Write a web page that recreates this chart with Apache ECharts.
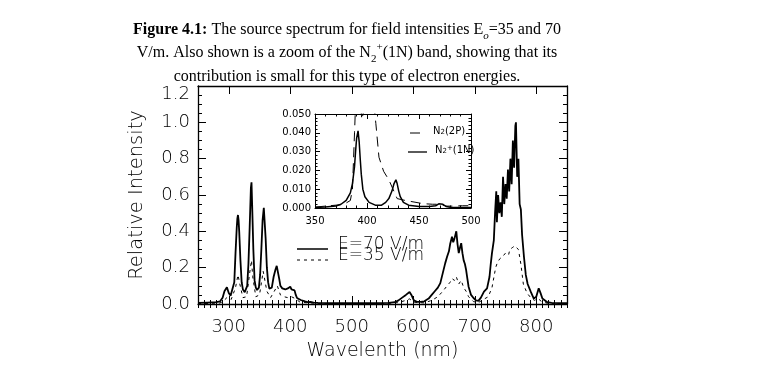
<!DOCTYPE html>
<html><head><meta charset="utf-8">
<script src="https://cdn.jsdelivr.net/npm/echarts@6/dist/echarts.min.js"></script>
<style>html,body{margin:0;padding:0;background:#fff}#c{width:762px;height:385px}</style>
</head><body><div id="c"></div>
<script>
// ---- data ----
const xTicks = [300, 400, 500, 600, 700, 800];
const yTicks = [0.0, 0.2, 0.4, 0.6, 0.8, 1.0, 1.2];
const insetXTicks = [350, 400, 450, 500];
const insetYTicks = [0.000, 0.010, 0.020, 0.030, 0.040, 0.050];
const seriesNames = ['E=70 V/m', 'E=35 V/m'];
const insetNames = ['N2(2P)', 'N2+(1N)'];

// E = 70 V/m  [wavelength nm, relative intensity]
const spec70 = [[250,0.006],[265,0.008],[280,0.010],[286,0.015],[290,0.035],[293,0.07],[297,0.092],[300,0.06],[303,0.045],[306,0.05],[309,0.12],[311,0.28],[313,0.42],[314,0.47],[315,0.49],[316,0.46],[317,0.40],[319,0.24],[321,0.12],[323,0.08],[326,0.065],[328,0.075],[330,0.10],[332,0.22],[334,0.42],[336,0.64],[337,0.67],[338,0.55],[340,0.30],[342,0.13],[344,0.09],[346,0.077],[349,0.09],[351,0.16],[353,0.30],[355,0.46],[357,0.53],[358,0.52],[360,0.36],[362,0.20],[364,0.12],[366,0.085],[368,0.077],[370,0.09],[373,0.15],[376,0.19],[378,0.21],[380,0.20],[382,0.14],[384,0.10],[387,0.086],[390,0.078],[392,0.08],[394,0.07],[396,0.086],[398,0.075],[400,0.095],[402,0.08],[404,0.085],[407,0.075],[409,0.05],[411,0.033],[414,0.025],[417,0.022],[420,0.02],[424,0.014],[428,0.01],[433,0.012],[438,0.008],[445,0.006],[460,0.005],[480,0.004],[500,0.004],[520,0.004],[540,0.005],[560,0.006],[570,0.01],[576,0.02],[582,0.035],[588,0.05],[594,0.066],[597,0.05],[601,0.02],[606,0.012],[612,0.012],[618,0.015],[625,0.03],[630,0.05],[635,0.07],[640,0.09],[644,0.115],[648,0.17],[652,0.225],[655,0.26],[658,0.29],[660,0.33],[663,0.37],[665,0.34],[667,0.36],[670,0.40],[672,0.33],[674,0.28],[676,0.31],[678,0.335],[680,0.28],[682,0.24],[684,0.22],[686,0.187],[688,0.14],[690,0.095],[694,0.05],[698,0.033],[702,0.02],[706,0.017],[710,0.035],[715,0.068],[720,0.086],[724,0.15],[726,0.22],[728,0.28],[731,0.35],[733,0.50],[735,0.62],[736,0.45],[738,0.60],[740,0.50],[742,0.56],[744,0.48],[746,0.70],[748,0.55],[750,0.66],[752,0.58],[754,0.74],[756,0.62],[758,0.80],[760,0.66],[762,0.90],[764,0.75],[766,0.98],[767,1.00],[769,0.70],[771,0.80],[773,0.55],[775,0.52],[777,0.38],[780,0.26],[783,0.16],[786,0.11],[791,0.068],[796,0.03],[800,0.04],[804,0.087],[807,0.06],[810,0.03],[818,0.01],[825,0.006],[850,0.004]];

// E = 35 V/m
const spec35 = [[250,0.002],[285,0.005],[290,0.012],[297,0.035],[304,0.025],[311,0.09],[315,0.16],[318,0.11],[323,0.035],[329,0.04],[334,0.17],[337,0.24],[339,0.15],[344,0.04],[350,0.05],[356,0.18],[358,0.19],[362,0.07],[368,0.035],[374,0.07],[379,0.10],[384,0.05],[390,0.04],[396,0.035],[402,0.04],[408,0.03],[416,0.01],[430,0.006],[450,0.003],[500,0.002],[560,0.003],[576,0.008],[588,0.02],[594,0.028],[601,0.01],[618,0.006],[630,0.02],[640,0.04],[648,0.07],[655,0.10],[660,0.12],[663,0.14],[667,0.13],[670,0.15],[674,0.11],[678,0.13],[682,0.09],[686,0.07],[690,0.04],[698,0.013],[706,0.008],[714,0.025],[722,0.04],[728,0.09],[734,0.20],[737,0.23],[741,0.25],[745,0.26],[750,0.28],[755,0.27],[757,0.30],[761,0.31],[765,0.32],[767,0.33],[771,0.30],[775,0.22],[779,0.11],[785,0.06],[791,0.035],[797,0.02],[803,0.03],[808,0.015],[818,0.004],[850,0.002]];

// inset: N2(2P) band (dashed)
const inset2P = [[350,0.0005],[360,0.001],[370,0.0015],[378,0.002],[384,0.004],[386,0.01],[388,0.04],[389,0.055],[391,0.07],[393,0.06],[395,0.047],[397,0.052],[400,0.08],[404,0.09],[406,0.07],[407.6,0.05],[408.5,0.045],[409,0.042],[411.5,0.027],[416,0.0195],[421,0.015],[429,0.005],[437,0.004],[452,0.0025],[457,0.0022],[463,0.002],[470,0.002],[476,0.001],[481,0.001],[492,0.0012],[500,0.0012]];
// inset: N2+(1N) band (solid)
const inset1N = [[350,0.0003],[360,0.0005],[370,0.001],[375,0.002],[380,0.004],[384,0.008],[386,0.013],[388,0.022],[389,0.03],[390,0.037],[391.4,0.041],[392.5,0.035],[393.5,0.026],[394.5,0.018],[396,0.01],[398,0.006],[402,0.003],[408,0.0015],[414,0.0015],[418,0.003],[421,0.005],[424,0.009],[426,0.013],[427.8,0.015],[429,0.013],[430.5,0.009],[432,0.006],[435,0.003],[440,0.0015],[450,0.0008],[460,0.0008],[466,0.0012],[469,0.0022],[470.9,0.0025],[473,0.002],[476,0.0008],[480,0.0004],[490,0.0002],[500,0.0002]];

// ---- chart ----
const AX = '#000';
const LF = {fontFamily: 'DejaVu Sans', fontWeight: 'lighter', color: '#000'};
const chart = echarts.init(document.getElementById('c'), null, {renderer: 'canvas'});
function ax(base, extra) { return Object.assign({}, base, extra); }

const mainX = {gridIndex: 0, type: 'value', min: 250, max: 850, splitLine: {show: false},
  axisLine: {show: true, onZero: false, lineStyle: {color: AX, width: 1.3}}};
const mainY = {gridIndex: 0, type: 'value', min: 0, max: 1.2, interval: 0.2, splitLine: {show: false},
  axisLine: {show: true, onZero: false, lineStyle: {color: AX, width: 1.3}}};
const insX = {gridIndex: 1, type: 'value', min: 350, max: 500, interval: 50, splitLine: {show: false},
  axisLine: {show: true, onZero: false, lineStyle: {color: AX, width: 1}}};
const insY = {gridIndex: 1, type: 'value', min: 0, max: 0.05, interval: 0.01, splitLine: {show: false},
  axisLine: {show: true, onZero: false, lineStyle: {color: AX, width: 1}}};

const option = {
  backgroundColor: '#fff',
  animation: false,
  title: {
    left: 342, top: 13, textAlign: 'center',
    text: '{b|Figure 4.1:} The source spectrum for field intensities E{sub|o}=35 and 70\nV/m. Also shown is a zoom of the N{sub2|2}{sup|+}(1N) band, showing that its\ncontribution is small for this type of electron energies.',
    textStyle: {
      fontFamily: 'Liberation Serif', fontSize: 16, fontWeight: 'normal', color: '#000', lineHeight: 23.5,
      rich: {
        b: {fontFamily: 'Liberation Serif', fontSize: 16, fontWeight: 'bold', color: '#000', lineHeight: 23.5},
        sub: {fontFamily: 'Liberation Serif', fontSize: 11, fontStyle: 'italic', color: '#000', verticalAlign: 'bottom', lineHeight: 16},
        sub2: {fontFamily: 'Liberation Serif', fontSize: 11, color: '#000', verticalAlign: 'bottom', lineHeight: 16},
        sup: {fontFamily: 'Liberation Serif', fontSize: 11, color: '#000', verticalAlign: 'top', lineHeight: 16}
      }
    }
  },
  grid: [
    {left: 198, right: 195, top: 86, bottom: 81},
    {left: 315, right: 291, top: 114, bottom: 177}
  ],
  xAxis: [
    ax(mainX, {position: 'bottom', name: 'Wavelenth (nm)', nameLocation: 'middle', nameGap: 38,
      nameTextStyle: Object.assign({fontSize: 19}, LF),
      axisTick: {show: true, inside: true, length: 8, customValues: xTicks, lineStyle: {color: AX}},
      axisLabel: Object.assign({show: true, margin: 14, fontSize: 18, customValues: xTicks}, LF)}),
    ax(mainX, {position: 'bottom', interval: 10, axisLine: {show: false},
      axisTick: {show: true, inside: true, length: 4, lineStyle: {color: AX}}, axisLabel: {show: false}}),
    ax(mainX, {position: 'top', axisTick: {show: true, inside: true, length: 8, customValues: xTicks, lineStyle: {color: AX}}, axisLabel: {show: false}}),
    ax(mainX, {position: 'top', interval: 10, axisLine: {show: false},
      axisTick: {show: true, inside: true, length: 4, lineStyle: {color: AX}}, axisLabel: {show: false}}),
    ax(insX, {position: 'bottom',
      axisTick: {show: true, inside: true, length: 5, lineStyle: {color: AX}},
      minorTick: {show: true, splitNumber: 5, length: 2.5, lineStyle: {color: AX}},
      axisLabel: {show: true, margin: 8, fontSize: 10, fontFamily: 'DejaVu Sans', color: '#000', customValues: insetXTicks}}),
    ax(insX, {position: 'top',
      axisTick: {show: true, inside: true, length: 5, lineStyle: {color: AX}},
      minorTick: {show: true, splitNumber: 5, length: 2.5, lineStyle: {color: AX}},
      axisLabel: {show: false}})
  ],
  yAxis: [
    ax(mainY, {position: 'left', name: 'Relative Intensity', nameLocation: 'middle', nameGap: 51,
      nameTextStyle: Object.assign({fontSize: 19.5}, LF),
      axisTick: {show: true, inside: true, length: 8, lineStyle: {color: AX}},
      minorTick: {show: true, splitNumber: 4, length: 4, lineStyle: {color: AX}},
      axisLabel: Object.assign({show: true, margin: 8, fontSize: 18,
        formatter: function (v) { return v >= 1.19 ? '{t|' + v.toFixed(1) + '}' : v.toFixed(1); },
        rich: {t: {fontSize: 18, fontFamily: 'DejaVu Sans', fontWeight: 'lighter', color: '#000', padding: [16, 0, 0, 0]}}}, LF)}),
    ax(mainY, {position: 'right',
      axisTick: {show: true, inside: true, length: 8, lineStyle: {color: AX}},
      minorTick: {show: true, splitNumber: 4, length: 4, lineStyle: {color: AX}},
      axisLabel: {show: false}}),
    ax(insY, {position: 'left',
      axisTick: {show: true, inside: true, length: 5, lineStyle: {color: AX}},
      minorTick: {show: true, splitNumber: 5, length: 2.5, lineStyle: {color: AX}},
      axisLabel: {show: true, margin: 4, fontSize: 10, fontFamily: 'DejaVu Sans', color: '#000',
        formatter: function (v) { return v.toFixed(3); }}}),
    ax(insY, {position: 'right',
      axisTick: {show: true, inside: true, length: 5, lineStyle: {color: AX}},
      minorTick: {show: true, splitNumber: 5, length: 2.5, lineStyle: {color: AX}},
      axisLabel: {show: false}})
  ],
  graphic: [
    // main legend
    {type: 'line', shape: {x1: 297, y1: 249, x2: 328, y2: 249}, style: {stroke: '#000', lineWidth: 1.5}},
    {type: 'text', x: 338, y: 245, style: Object.assign({text: seriesNames[0], fontSize: 17, verticalAlign: 'middle', fill: '#000'}, {fontFamily: 'DejaVu Sans', fontWeight: 'lighter'})},
    {type: 'line', shape: {x1: 297, y1: 260, x2: 328, y2: 260}, style: {stroke: '#000', lineWidth: 1, lineDash: [3, 4]}},
    {type: 'text', x: 338, y: 256, style: Object.assign({text: seriesNames[1], fontSize: 17, verticalAlign: 'middle', fill: '#000'}, {fontFamily: 'DejaVu Sans', fontWeight: 'lighter'})},
    // inset legend
    {type: 'line', shape: {x1: 410, y1: 133, x2: 420, y2: 133}, style: {stroke: '#000', lineWidth: 1}},
    {type: 'text', x: 433, y: 131, style: {text: 'N{s|2}(2P)', fontSize: 10, fontFamily: 'DejaVu Sans', verticalAlign: 'middle', fill: '#000',
      rich: {s: {fontSize: 7, fontFamily: 'DejaVu Sans', verticalAlign: 'bottom', lineHeight: 10}}}},
    {type: 'line', shape: {x1: 408, y1: 152, x2: 427, y2: 152}, style: {stroke: '#000', lineWidth: 1.3}},
    {type: 'text', x: 435, y: 150, style: {text: 'N{s|2}{p|+}(1N)', fontSize: 10, fontFamily: 'DejaVu Sans', verticalAlign: 'middle', fill: '#000',
      rich: {s: {fontSize: 7, fontFamily: 'DejaVu Sans', verticalAlign: 'bottom', lineHeight: 10},
             p: {fontSize: 7, fontFamily: 'DejaVu Sans', verticalAlign: 'top', lineHeight: 10}}}}
  ],
  series: [
    {name: seriesNames[0], type: 'line', xAxisIndex: 0, yAxisIndex: 0, data: spec70, symbol: 'none',
      lineStyle: {color: '#000', width: 1.8}, itemStyle: {color: '#000'}, z: 3},
    {name: seriesNames[1], type: 'line', xAxisIndex: 0, yAxisIndex: 0, data: spec35, symbol: 'none',
      lineStyle: {color: '#000', width: 1, type: [3, 4]}, itemStyle: {color: '#000'}, z: 2},
    {name: insetNames[0], type: 'line', xAxisIndex: 4, yAxisIndex: 2, data: inset2P, symbol: 'none', clip: true,
      lineStyle: {color: '#000', width: 1, type: [10, 6]}, itemStyle: {color: '#000'}},
    {name: insetNames[1], type: 'line', xAxisIndex: 4, yAxisIndex: 2, data: inset1N, symbol: 'none', clip: true,
      lineStyle: {color: '#000', width: 1.5}, itemStyle: {color: '#000'}}
  ]
};
chart.setOption(option);
</script></body></html>
